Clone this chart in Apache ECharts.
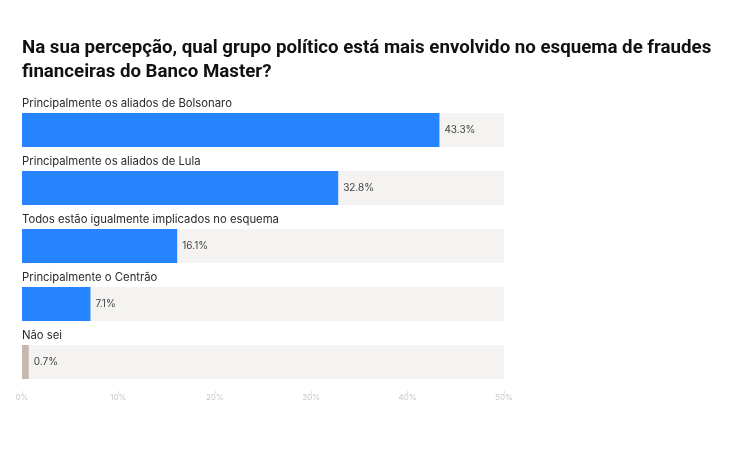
<!DOCTYPE html>
<html>
<head>
<meta charset="utf-8">
<script src="https://cdn.jsdelivr.net/npm/echarts@6/dist/echarts.min.js"></script>
<style>
  html, body { margin: 0; padding: 0; background: #fff; }
  #main { width: 750px; height: 450px; }
</style>
</head>
<body>
<div id="main"></div>
<script>
var categories = [
  'Principalmente os aliados de Bolsonaro',
  'Principalmente os aliados de Lula',
  'Todos estão igualmente implicados no esquema',
  'Principalmente o Centrão',
  'Não sei'
];
var values = [43.3, 32.8, 16.1, 7.1, 0.7];
var axisMax = 50;
var barColors = ['#2684ff', '#2684ff', '#2684ff', '#2684ff', '#c4b8b0'];

var myChart = echarts.init(document.getElementById('main'));

var option = {
  backgroundColor: '#fff',
  animation: false,
  title: {
    text: 'Na sua percepção, qual grupo político está mais envolvido no esquema de fraudes\nfinanceiras do Banco Master?',
    left: 22,
    top: 36,
    padding: 0,
    textStyle: {
      fontFamily: 'Roboto',
      fontSize: 18.7,
      fontWeight: 'bold',
      color: '#111',
      lineHeight: 24
    }
  },
  grid: { left: 22, width: 482, top: 101, height: 290 },
  xAxis: {
    type: 'value',
    min: 0,
    max: axisMax,
    interval: 10,
    splitLine: { show: false },
    axisLine: { show: false },
    axisTick: { show: true, length: 3, lineStyle: { color: '#e2e2e2' } },
    axisLabel: {
      formatter: '{value}%',
      fontSize: 8,
      color: '#c8c8c8',
      margin: 3,
      fontFamily: 'Inter'
    }
  },
  yAxis: {
    type: 'category',
    data: categories,
    inverse: true,
    show: false
  },
  series: [
    {
      type: 'bar',
      data: categories.map(function () { return axisMax; }),
      barWidth: 34,
      barGap: '-100%',
      silent: true,
      itemStyle: { color: '#f4f3f1' },
      label: {
        show: true,
        position: [0, -15],
        formatter: function (p) { return categories[p.dataIndex]; },
        fontFamily: 'Inter',
        fontSize: 11.3,
        color: '#2a2a2a'
      },
      z: 1
    },
    {
      type: 'bar',
      data: values,
      barWidth: 34,
      itemStyle: {
        color: function (p) { return barColors[p.dataIndex]; }
      },
      label: {
        show: true,
        position: 'right',
        distance: 5,
        formatter: '{c}%',
        fontFamily: 'Inter',
        fontSize: 10,
        color: '#444'
      },
      z: 2
    }
  ]
};

myChart.setOption(option);
</script>
</body>
</html>
